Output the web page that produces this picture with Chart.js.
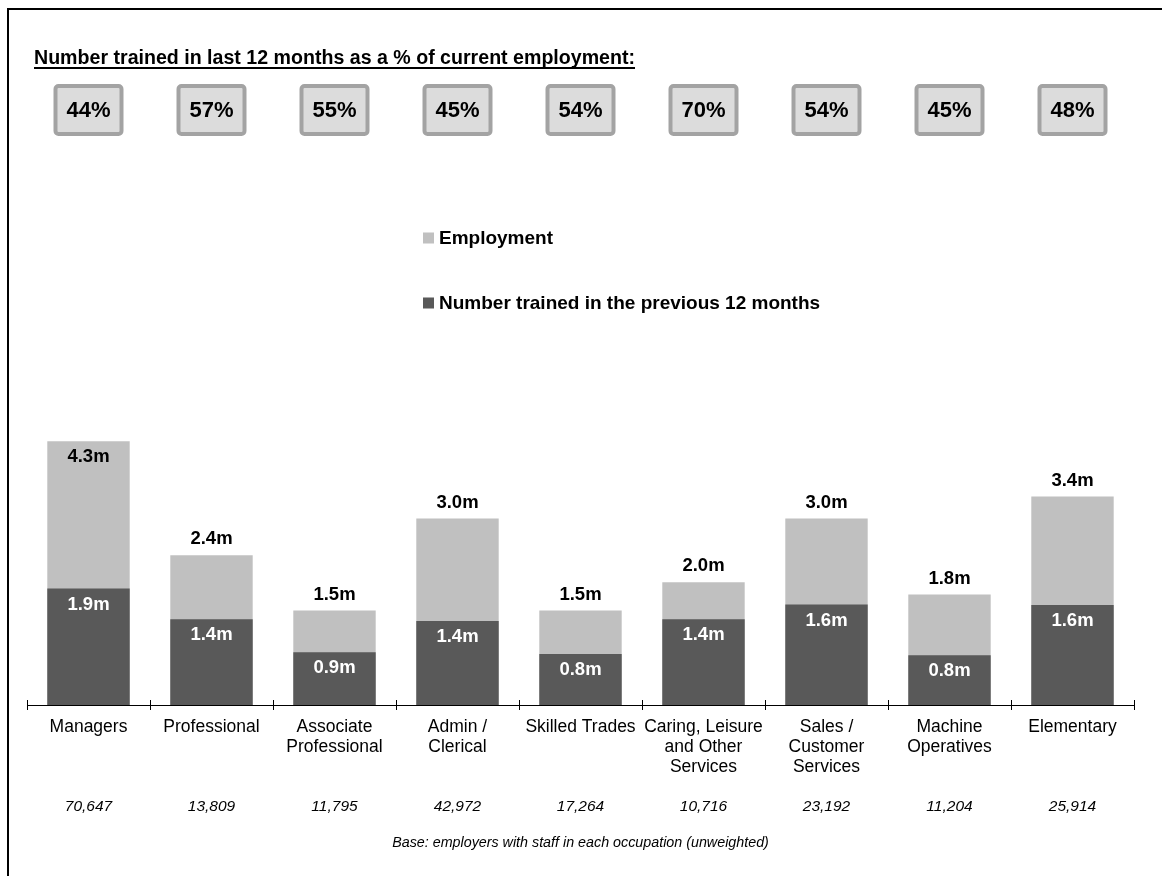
<!DOCTYPE html>
<html lang="en">
<head>
<meta charset="UTF-8">
<title>Employment and training by occupation</title>
<script src="https://cdn.jsdelivr.net/npm/chart.js"></script>
<style>
  html, body { margin: 0; padding: 0; background: #fff; }
  .canvas { position: relative; width: 1162px; height: 876px; }
</style>
</head>
<body>
<div class="canvas"><canvas id="grafico"></canvas></div>
<script>
const occupations = [
  'Managers', 'Professional', ['Associate', 'Professional'], ['Admin /', 'Clerical'],
  'Skilled Trades', ['Caring, Leisure', 'and Other', 'Services'], ['Sales /', 'Customer', 'Services'],
  ['Machine', 'Operatives'], 'Elementary'
];
// millions
const employment = [4.3, 2.44, 1.54, 3.04, 1.54, 2.0, 3.04, 1.8, 3.4];
const trained = [1.9, 1.4, 0.86, 1.37, 0.83, 1.4, 1.64, 0.81, 1.63];
const pctTrained = [44, 57, 55, 45, 54, 70, 54, 45, 48];
const baseCounts = ['70,647', '13,809', '11,795', '42,972', '17,264', '10,716', '23,192', '11,204', '25,914'];
const seriesNames = ['Employment', 'Number trained in the previous 12 months'];
const yMax = 4.5;

const FONT = "'Liberation Sans', Arial, sans-serif";
const lightGrey = '#c0c0c0';
const darkGrey = '#595959';

// extra texts, boxes, labels and frame
const extras = {
  id: 'extras',
  beforeDraw(chart) {
    const c = chart.ctx;
    c.save();
    c.fillStyle = '#fff';
    c.fillRect(0, 0, chart.width, chart.height);
    c.strokeStyle = '#000';
    c.lineWidth = 2;
    c.beginPath();
    c.moveTo(8, chart.height);
    c.lineTo(8, 9);
    c.lineTo(chart.width, 9);
    c.stroke();
    c.restore();
  },
  afterDatasetsDraw(chart) {
    const c = chart.ctx;
    const area = chart.chartArea;
    c.save();
    c.font = 'bold 18.5px ' + FONT;
    c.textAlign = 'center';
    c.textBaseline = 'middle';
    chart.getDatasetMeta(1).data.forEach((bar, i) => {
      const txt = employment[i].toFixed(1) + 'm';
      c.fillStyle = '#000';
      if (bar.y - 30 < area.top) c.fillText(txt, bar.x, bar.y + 16);
      else c.fillText(txt, bar.x, bar.y - 16);
    });
    chart.getDatasetMeta(0).data.forEach((bar, i) => {
      c.fillStyle = '#fff';
      c.fillText(trained[i].toFixed(1) + 'm', bar.x, bar.y + 16);
    });
    c.restore();
  },
  afterDraw(chart) {
    const c = chart.ctx;
    const area = chart.chartArea;
    const xs = chart.scales.x;
    c.save();

    // title
    c.fillStyle = '#000';
    c.font = 'bold 19.6px ' + FONT;
    c.textAlign = 'left';
    c.textBaseline = 'alphabetic';
    const title = 'Number trained in last 12 months as a % of current employment:';
    c.fillText(title, 34, 64);
    const w = c.measureText(title).width;
    c.fillRect(34, 67, w, 2);

    // percentage boxes
    pctTrained.forEach((p, i) => {
      const x = xs.getPixelForValue(i);
      c.fillStyle = '#dcdcdc';
      c.strokeStyle = '#a3a3a3';
      c.lineWidth = 4;
      c.beginPath();
      c.roundRect(x - 33, 86, 66, 48, 3);
      c.fill();
      c.stroke();
      c.fillStyle = '#000';
      c.font = 'bold 22px ' + FONT;
      c.textAlign = 'center';
      c.textBaseline = 'middle';
      c.fillText(p + '%', x, 111);
    });

    // legend
    [lightGrey, darkGrey].forEach((col, k) => {
      const y = k === 0 ? 238 : 303;
      c.fillStyle = col;
      c.fillRect(423, y - 5.5, 11, 11);
      c.fillStyle = '#000';
      c.font = 'bold 19px ' + FONT;
      c.textAlign = 'left';
      c.textBaseline = 'middle';
      c.fillText(seriesNames[k], 439, y + 1);
    });

    // axis tick marks at category boundaries
    c.strokeStyle = '#000';
    c.lineWidth = 1;
    const step = (area.right - area.left) / occupations.length;
    for (let i = 0; i <= occupations.length; i++) {
      const x = Math.round(area.left + i * step) + 0.5;
      c.beginPath();
      c.moveTo(x, area.bottom - 5);
      c.lineTo(x, area.bottom + 5);
      c.stroke();
    }

    // base sizes
    c.font = 'italic 15.5px ' + FONT;
    c.textAlign = 'center';
    c.textBaseline = 'middle';
    baseCounts.forEach((b, i) => c.fillText(b, xs.getPixelForValue(i), 807));
    c.font = 'italic 14.3px ' + FONT;
    c.fillText('Base: employers with staff in each occupation (unweighted)', (area.left + area.right) / 2, 843);

    c.restore();
  }
};

const meuGrafico = document.getElementById('grafico');
new Chart(meuGrafico, {
  type: 'bar',
  data: {
    labels: occupations,
    datasets: [
      { label: seriesNames[1], data: trained, backgroundColor: darkGrey, order: 0 },
      { label: seriesNames[0], data: employment, backgroundColor: lightGrey, order: 1 }
    ]
  },
  options: {
    responsive: true,
    maintainAspectRatio: false,
    animation: false,
    datasets: { bar: { grouped: false, barPercentage: 0.67, categoryPercentage: 1 } },
    layout: { padding: { left: 27, right: 28, top: 429, bottom: 71 } },
    plugins: { legend: { display: false }, tooltip: { enabled: false } },
    scales: {
      x: {
        grid: { display: false, drawTicks: false },
        border: { display: true, color: '#000', width: 1 },
        ticks: { color: '#000', font: { family: FONT, size: 17.5, lineHeight: '20px' }, padding: 12, maxRotation: 0, autoSkip: false },
        afterFit(scale) { scale.height = 100; }
      },
      y: { display: false, min: 0, max: yMax }
    }
  },
  plugins: [extras]
});
</script>
</body>
</html>
